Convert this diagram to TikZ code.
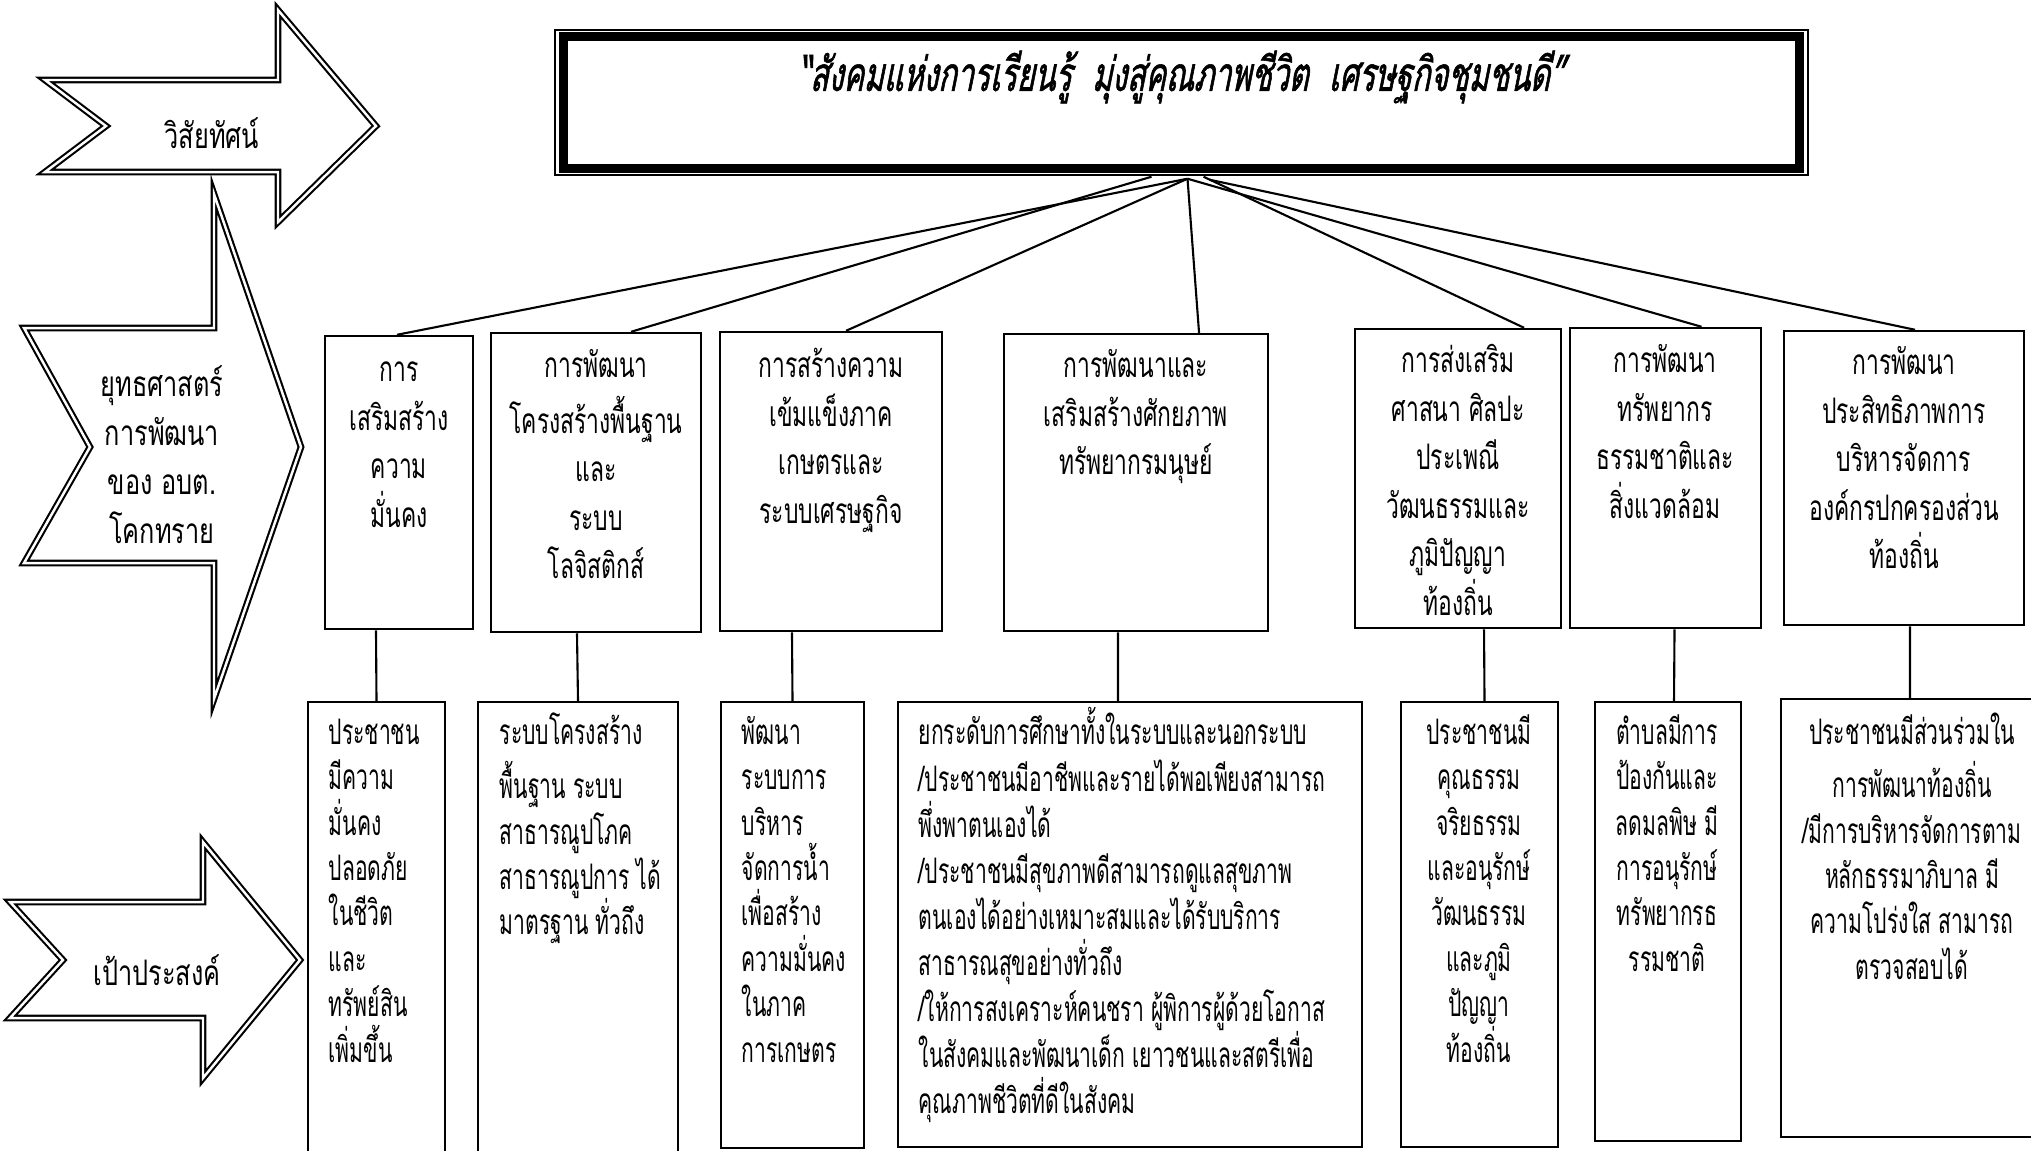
\documentclass[tikz,border=0pt]{standalone}
\usepackage{fontspec}
\usepackage{tikz}
\usetikzlibrary{fit}
\newfontfamily\thai[Script=Thai,FakeStretch=0.65]{Loma}
\newfontfamily\thaigoal[Script=Thai,FakeStretch=0.60]{Loma}
\newfontfamily\thaiwide[Script=Thai,FakeStretch=0.72]{Loma}
\newfontfamily\thaivis[Script=Thai,FakeStretch=0.64,FakeSlant=0.2,FakeBold=1.2]{Loma}
\tikzset{
  sbox/.style={draw,line width=0.7pt,inner sep=0pt},
  stext/.style={anchor=north,align=center,inner sep=0pt,
    font=\thai\fontsize{10}{13.8}\selectfont},
  gtext/.style={anchor=north west,align=left,inner sep=0pt,
    font=\thaigoal\fontsize{10}{12.9}\selectfont},
  gtextc/.style={gtext,anchor=north,align=center},
  atext/.style={anchor=north,align=center,inner sep=0pt,
    font=\thaiwide\fontsize{10}{13.9}\selectfont},
  link/.style={line width=0.6pt},
  banner/.style={draw,line width=0.6pt,double,double distance=0.7pt,miter limit=20},
}

\begin{document}
\begin{tikzpicture}[x=0.01cm,y=-0.01cm]
  \useasboundingbox (0,0) rectangle (2031,1150);
  \clip (0,0) rectangle (2031,1150);

  \draw[banner]
    (45,80) -- (278,80) -- (278,10) -- (376,126) -- (278,222)
    -- (278,172) -- (45,172) -- (106,126) -- cycle;
  \node[atext,anchor=center] (vislabel) at (212,133) {วิสัยทัศน์};

  \draw[banner]
    (24,328) -- (214,328) -- (214,194) -- (301,447) -- (214,699)
    -- (214,563) -- (24,563) -- (90,447) -- cycle;
  \node[atext] (stratlabel) at (162,362)
    {\strut ยุทธศาสตร์\\การพัฒนา\\ของ อบต.\\โคกทราย};

  \draw[banner]
    (10,902) -- (203,902) -- (203,842) -- (300,960) -- (203,1078)
    -- (203,1018) -- (10,1018) -- (63,960) -- cycle;
  \node[atext,anchor=center] (goallabel) at (157,970) {เป้าประสงค์};

  \node[draw,line width=0.4pt,inner sep=0pt,fit={(555,30) (1808,175)}] (vis) {};
  \draw[line width=2.5pt]
    ([shift={(9,7.5)}]vis.north west) rectangle ([shift={(-9,-7.5)}]vis.south east);
  \node[font=\thaivis\fontsize{13.5}{15}\selectfont] (vistext) at (1181,77)
    {“สังคมแห่งการเรียนรู้~~มุ่งสู่คุณภาพชีวิต~~เศรษฐกิจชุมชนดี”};

  \node[sbox,fit={(325,336) (473,629)}] (b1) {};
  \node[sbox,fit={(491,333) (701,632)}] (b2) {};
  \node[sbox,fit={(720,332) (942,631)}] (b3) {};
  \node[sbox,fit={(1004,334) (1268,631)}] (b4) {};
  \node[sbox,fit={(1355,329) (1561,628)}] (b5) {};
  \node[sbox,fit={(1570,328) (1761,628)}] (b6) {};
  \node[sbox,fit={(1784,331) (2024,625)}] (b7) {};

  \node[stext] (b1text) at (399,347) {\strut การ\\เสริมสร้าง\\ความ\\มั่นคง};
  \node[stext] (b2text) at (596,343)
    {\strut การพัฒนา\\โครงสร้างพื้นฐาน\\และ\\ระบบ\\โลจิสติกส์};
  \node[stext] (b3text) at (831,343)
    {\strut การสร้างความ\\เข้มแข็งภาค\\เกษตรและ\\ระบบเศรษฐกิจ};
  \node[stext] (b4text) at (1136,343)
    {\strut การพัฒนาและ\\เสริมสร้างศักยภาพ\\ทรัพยากรมนุษย์};
  \node[stext] (b5text) at (1458,338)
    {\strut การส่งเสริม\\ศาสนา ศิลปะ\\ประเพณี\\วัฒนธรรมและ\\ภูมิปัญญา\\ท้องถิ่น};
  \node[stext] (b6text) at (1665,338)
    {\strut การพัฒนา\\ทรัพยากร\\ธรรมชาติและ\\สิ่งแวดล้อม};
  \node[stext] (b7text) at (1904,340)
    {\strut การพัฒนา\\ประสิทธิภาพการ\\บริหารจัดการ\\องค์กรปกครองส่วน\\ท้องถิ่น};

  \node[sbox,fit={(308,702) (445,1170)}] (g1) {};
  \node[sbox,fit={(478,702) (678,1170)}] (g2) {};
  \node[sbox,fit={(721,702) (864,1148)}] (g3) {};
  \node[sbox,fit={(898,702) (1362,1147)}] (g4) {};
  \node[sbox,fit={(1401,702) (1558,1147)}] (g5) {};
  \node[sbox,fit={(1595,702) (1741,1141)}] (g6) {};
  \node[sbox,fit={(1781,699) (2039,1137)}] (g7) {};

  \node[gtext] (g1text) at (328,712)
    {\strut ประชาชน\\มีความ\\มั่นคง\\ปลอดภัย\\ในชีวิต\\และ\\ทรัพย์สิน\\เพิ่มขึ้น};
  \node[gtext] (g2text) at (499,712)
    {\strut ระบบโครงสร้าง\\พื้นฐาน ระบบ\\สาธารณูปโภค\\สาธารณูปการ ได้\\มาตรฐาน ทั่วถึง};
  \node[gtext] (g3text) at (741,712)
    {\strut พัฒนา\\ระบบการ\\บริหาร\\จัดการน้ำ\\เพื่อสร้าง\\ความมั่นคง\\ในภาค\\การเกษตร};
  \node[gtext,font=\thaigoal\fontsize{10}{13.1}\selectfont] (g4text) at (918,707)
    {\strut ยกระดับการศึกษาทั้งในระบบและนอกระบบ\\
     /ประชาชนมีอาชีพและรายได้พอเพียงสามารถ\\
     พึ่งพาตนเองได้\\
     /ประชาชนมีสุขภาพดีสามารถดูแลสุขภาพ\\
     ตนเองได้อย่างเหมาะสมและได้รับบริการ\\
     สาธารณสุขอย่างทั่วถึง\\
     /ให้การสงเคราะห์คนชรา ผู้พิการผู้ด้วยโอกาส\\
     ในสังคมและพัฒนาเด็ก เยาวชนและสตรีเพื่อ\\
     คุณภาพชีวิตที่ดีในสังคม};
  \node[gtextc] (g5text) at (1479,712)
    {\strut ประชาชนมี\\คุณธรรม\\จริยธรรม\\และอนุรักษ์\\วัฒนธรรม\\และภูมิ\\ปัญญา\\ท้องถิ่น};
  \node[gtextc] (g6text) at (1667,712)
    {\strut ตำบลมีการ\\ป้องกันและ\\ลดมลพิษ มี\\การอนุรักษ์\\ทรัพยากรธ\\รรมชาติ};
  \node[gtextc] (g7text) at (1912,712)
    {\strut ประชาชนมีส่วนร่วมใน\\การพัฒนาท้องถิ่น\\/มีการบริหารจัดการตาม\\หลักธรรมาภิบาล มี\\ความโปร่งใส สามารถ\\ตรวจสอบได้};

  \coordinate (hubA) at ([xshift=-0.30cm,yshift=-0.01cm]vis.south);
  \coordinate (hubB) at ([xshift=0.06cm,yshift=-0.03cm]vis.south);
  \coordinate (hubC) at ([xshift=0.22cm,yshift=-0.01cm]vis.south);
  \coordinate (hubD) at ([xshift=0.28cm,yshift=-0.04cm]vis.south);

  \draw[link] (hubB) -- ([xshift=-0.02cm]b1.north);
  \draw[link] (hubA) -- ([xshift=0.35cm]b2.north);
  \draw[link] (hubB) -- ([xshift=0.15cm]b3.north);
  \draw[link] (hubB) -- ([xshift=0.63cm]b4.north);
  \draw[link] (hubC) -- ([xshift=0.66cm]b5.north);
  \draw[link] (hubB) -- ([xshift=0.36cm]b6.north);
  \draw[link] (hubD) -- ([xshift=0.11cm]b7.north);

  \draw[link] ([xshift=-0.23cm]b1.south) -- (g1.north);
  \draw[link] ([xshift=-0.19cm]b2.south) -- (g2.north);
  \draw[link] ([xshift=-0.39cm]b3.south) -- (g3.north);
  \draw[link] ([xshift=-0.18cm]b4.south) -- ([xshift=-0.12cm]g4.north);
  \draw[link] ([xshift=0.26cm]b5.south) -- ([xshift=0.05cm]g5.north);
  \draw[link] ([xshift=0.09cm]b6.south) -- ([xshift=0.06cm]g6.north);
  \draw[link] ([xshift=0.06cm]b7.south) -- (g7.north);
\end{tikzpicture}
\end{document}
